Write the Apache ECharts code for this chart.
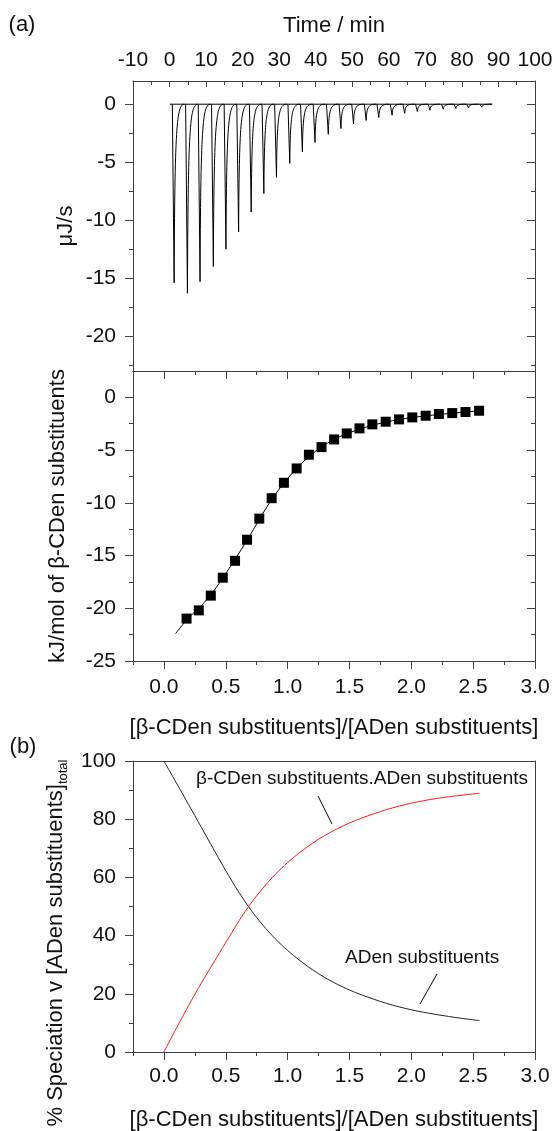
<!DOCTYPE html>
<html>
<head>
    <meta charset="UTF-8">
    <script src="https://cdn.jsdelivr.net/npm/echarts@6/dist/echarts.min.js"></script>
</head>
<body style="margin: 0; background: #fff;">
    <div id="chart" style="width: 555px; height: 1131px;"></div>
    <script type="text/javascript">
        // (a) top: raw ITC trace, one dip per injection (time in min, power in uJ/s)
        var peakTime = [1.26, 4.90, 8.35, 11.99, 15.44, 18.90, 22.35, 25.81, 29.26, 32.90,
                        36.35, 39.81, 43.44, 46.90, 50.35, 53.81, 57.26, 60.90, 64.35, 67.81,
                        71.26, 74.90, 78.35, 81.81, 85.44];
        var peakDepth = [-15.4, -16.3, -15.3, -14.0, -12.5, -11.0, -9.3, -7.7, -6.3, -5.1,
                         -4.1, -3.3, -2.6, -2.1, -1.7, -1.4, -1.15, -0.95, -0.78, -0.63,
                         -0.52, -0.43, -0.37, -0.32, -0.26];
        var baselineTime = [0.1, 88.3];
        var baselinePower = [0, 0];

        // (a) bottom: integrated heats and fitted curve
        var molarRatio = [0.183, 0.282, 0.379, 0.476, 0.575, 0.672, 0.771, 0.871, 0.970, 1.073,
                          1.172, 1.274, 1.376, 1.478, 1.581, 1.685, 1.793, 1.901, 2.008, 2.116,
                          2.223, 2.331, 2.438, 2.548];
        var heat = [-20.98, -20.2, -18.8, -17.1, -15.5, -13.5, -11.5, -9.56, -8.10, -6.74,
                    -5.44, -4.72, -3.99, -3.42, -2.94, -2.56, -2.31, -2.09, -1.90, -1.74,
                    -1.58, -1.49, -1.39, -1.27];
        var fitRatio = [0.094, 0.2, 0.3, 0.4, 0.5, 0.6, 0.7, 0.8, 0.9, 1.0, 1.1, 1.2,
                        1.3, 1.4, 1.5, 1.6, 1.7, 1.8, 1.9, 2.0, 2.2, 2.4, 2.58];
        var fitHeat = [-22.4, -20.9, -19.8, -18.4, -16.7, -14.9, -13.0, -11.0, -9.2, -7.7, -6.4, -5.35,
                       -4.5, -3.85, -3.35, -2.95, -2.6, -2.33, -2.1, -1.92, -1.65, -1.43, -1.25];

        // (b) speciation curves
        var specRatio = [0, 0.1, 0.2, 0.3, 0.4, 0.5, 0.6, 0.7, 0.8, 0.9, 1.0, 1.1,
                         1.2, 1.3, 1.4, 1.5, 1.6, 1.8, 2.0, 2.2, 2.4, 2.55];
        var freeADen = [100, 92.5, 85.0, 77.4, 69.8, 62.3, 55.3, 49.0, 43.6, 38.9, 34.9, 31.4,
                        28.3, 25.6, 23.3, 21.3, 19.6, 16.7, 14.5, 12.9, 11.6, 10.8];
        var complexed = [0, 8.1, 16.0, 23.5, 30.6, 37.6, 44.6, 50.9, 56.3, 61.0, 65.1, 68.6,
                         71.7, 74.4, 76.7, 78.7, 80.4, 83.3, 85.5, 87.1, 88.2, 88.9];

        // tick values
        var timeMajor = [-10, 0, 10, 20, 30, 40, 50, 60, 70, 80, 90, 100];
        var timeMinor = [-5, 5, 15, 25, 35, 45, 55, 65, 75, 85, 95];
        var powerMajor = [-20, -15, -10, -5, 0];
        var powerMinor = [-22.5, -17.5, -12.5, -7.5, -2.5];
        var heatMajor = [-25, -20, -15, -10, -5, 0];
        var heatMinor = [-22.5, -17.5, -12.5, -7.5, -2.5];
        var ratioMajor = [0, 0.5, 1.0, 1.5, 2.0, 2.5, 3.0];
        var ratioMinor = [-0.25, 0.25, 0.75, 1.25, 1.75, 2.25, 2.75];
        var specMajor = [0, 20, 40, 60, 80, 100];
        var specMinor = [10, 30, 50, 70, 90];

        var font = 'Arial, "Liberation Sans", sans-serif';
        var axisColor = '#404040';
        var textColor = '#111';

        function zip(a, b) {
            return a.map(function (v, i) { return [v, b[i]]; });
        }

        // one axis drawing a set of ticks (and optionally the line and labels)
        function tickAxis(grid, pos, min, max, values, len, inside, opts) {
            opts = opts || {};
            return {
                type: 'value', gridIndex: grid, position: pos, min: min, max: max,
                axisLine: { show: !!opts.line, onZero: false, lineStyle: { color: axisColor, width: 1 } },
                axisTick: { show: values.length > 0, inside: inside, length: len,
                            customValues: values, lineStyle: { color: axisColor, width: 1 } },
                axisLabel: opts.labels ? {
                    show: true, customValues: values, margin: opts.margin,
                    color: textColor, fontSize: 21, fontFamily: font,
                    formatter: opts.formatter
                } : { show: false },
                splitLine: { show: false },
                name: opts.name, nameLocation: 'middle', nameGap: opts.nameGap,
                nameTextStyle: { color: textColor, fontSize: 22, fontFamily: font }
            };
        }

        var fmt1 = function (v) { return v.toFixed(1); };

        var xAxes = [
            // grid 0: time on top
            tickAxis(0, 'top', -10, 100, timeMajor, 6, true,
                     { line: true, labels: true, margin: 10, name: 'Time / min', nameGap: 44 }),
            tickAxis(0, 'top', -10, 100, timeMinor, 4, true),
            tickAxis(0, 'bottom', -10, 100, [], 0, true, { line: true }),
            // grid 1: molar ratio
            tickAxis(1, 'bottom', -0.25, 3, ratioMajor, 8, false,
                     { line: true, labels: true, margin: 16, formatter: fmt1,
                       name: '[\u03b2-CDen substituents]/[ADen substituents]', nameGap: 56 }),
            tickAxis(1, 'bottom', -0.25, 3, ratioMinor, 4, false),
            tickAxis(1, 'top', -0.25, 3, ratioMajor, 8, true, { line: true }),
            tickAxis(1, 'top', -0.25, 3, ratioMinor, 4, true),
            // grid 2: molar ratio
            tickAxis(2, 'bottom', -0.25, 3, ratioMajor, 8, false,
                     { line: true, labels: true, margin: 14, formatter: fmt1,
                       name: '[\u03b2-CDen substituents]/[ADen substituents]', nameGap: 57 }),
            tickAxis(2, 'bottom', -0.25, 3, ratioMinor, 4, false),
            tickAxis(2, 'top', -0.25, 3, [], 0, true, { line: true })
        ];

        var yAxes = [
            // grid 0
            tickAxis(0, 'left', -23, 2, powerMajor, 8, false, { line: true, labels: true, margin: 17 }),
            tickAxis(0, 'left', -23, 2, powerMinor, 4, false),
            tickAxis(0, 'right', -23, 2, powerMajor, 8, true, { line: true }),
            tickAxis(0, 'right', -23, 2, powerMinor, 4, true),
            // grid 1
            tickAxis(1, 'left', -25, 2.5, heatMajor, 8, false, { line: true, labels: true, margin: 17 }),
            tickAxis(1, 'left', -25, 2.5, heatMinor, 4, false),
            tickAxis(1, 'right', -25, 2.5, heatMajor, 8, true, { line: true }),
            tickAxis(1, 'right', -25, 2.5, heatMinor, 4, true),
            // grid 2
            tickAxis(2, 'left', 0, 100, specMajor, 8, false, { line: true, labels: true, margin: 17 }),
            tickAxis(2, 'left', 0, 100, specMinor, 4, false),
            tickAxis(2, 'right', 0, 100, [], 0, true, { line: true })
        ];

        var chart = echarts.init(document.getElementById('chart'), null, { renderer: 'canvas' });

        var option = {
            animation: false,
            backgroundColor: '#fff',
            grid: [
                { left: 133, top: 81, width: 402, height: 290, outerBoundsMode: 'none' },
                { left: 133, top: 371, width: 402, height: 290, outerBoundsMode: 'none' },
                { left: 133, top: 761, width: 402, height: 291, outerBoundsMode: 'none' }
            ],
            xAxis: xAxes,
            yAxis: yAxes,
            series: [
                {
                    name: 'baseline', type: 'line', xAxisIndex: 0, yAxisIndex: 0,
                    data: zip(baselineTime, baselinePower), showSymbol: false,
                    lineStyle: { color: '#000', width: 1 }
                },
                {
                    name: 'injections', type: 'custom', xAxisIndex: 0, yAxisIndex: 0,
                    data: zip(peakTime, peakDepth),
                    renderItem: function (params, api) {
                        var t = api.value(0), d = api.value(1);
                        var start = api.coord([t - 0.5, 0]);
                        var tip = api.coord([t, d]);
                        var c1 = api.coord([t + 0.15, d * 0.12]);
                        var c2 = api.coord([t + 0.7, 0]);
                        var end = api.coord([t + 2.8, 0]);
                        var st = { stroke: '#000', fill: null, lineWidth: 1 };
                        return {
                            type: 'group',
                            children: [
                                { type: 'line', shape: { x1: start[0], y1: start[1], x2: tip[0], y2: tip[1] }, style: st },
                                { type: 'bezierCurve', shape: {
                                    x1: tip[0], y1: tip[1], cpx1: c1[0], cpy1: c1[1],
                                    cpx2: c2[0], cpy2: c2[1], x2: end[0], y2: end[1] }, style: st }
                            ]
                        };
                    }
                },
                {
                    name: 'fit', type: 'line', xAxisIndex: 3, yAxisIndex: 4,
                    data: zip(fitRatio, fitHeat), smooth: 0.3, showSymbol: false,
                    lineStyle: { color: '#000', width: 1 }, z: 2
                },
                {
                    name: 'heats', type: 'scatter', xAxisIndex: 3, yAxisIndex: 4,
                    data: zip(molarRatio, heat), symbol: 'rect', symbolSize: 10,
                    itemStyle: { color: '#000', opacity: 1 }, z: 3
                },
                {
                    name: 'ADen substituents', type: 'line', xAxisIndex: 7, yAxisIndex: 8,
                    data: zip(specRatio, freeADen), smooth: 0.3, showSymbol: false,
                    lineStyle: { color: '#222', width: 1 }
                },
                {
                    name: 'complex', type: 'line', xAxisIndex: 7, yAxisIndex: 8,
                    data: zip(specRatio, complexed), smooth: 0.3, showSymbol: false,
                    lineStyle: { color: '#ff1a1a', width: 1 }
                }
            ],
            graphic: [
                { type: 'text', x: 22, y: 25, style: { text: '(a)', fontSize: 22, fontFamily: font, fill: textColor, align: 'center', verticalAlign: 'middle' } },
                { type: 'text', x: 23, y: 747, style: { text: '(b)', fontSize: 22, fontFamily: font, fill: textColor, align: 'center', verticalAlign: 'middle' } },
                { type: 'text', x: 66, y: 226, rotation: Math.PI / 2, style: { text: '\u03bcJ/s', fontSize: 22, fontFamily: font, fill: textColor, align: 'center', verticalAlign: 'middle' } },
                { type: 'text', x: 58, y: 516, rotation: Math.PI / 2, style: { text: 'kJ/mol of \u03b2-CDen substituents', fontSize: 22, fontFamily: font, fill: textColor, align: 'center', verticalAlign: 'middle' } },
                { type: 'text', x: 56, y: 943, rotation: Math.PI / 2, style: {
                    text: '% Speciation v [ADen substituents]{sub|total}', fontSize: 22, fontFamily: font, fill: textColor,
                    align: 'center', verticalAlign: 'middle',
                    rich: { sub: { fontSize: 13, fontFamily: font, fill: textColor, verticalAlign: 'bottom', padding: [14, 0, 0, 0] } } } },
                { type: 'text', x: 196, y: 779, style: { text: '\u03b2-CDen substituents.ADen substituents', fontSize: 19, fontFamily: font, fill: textColor, align: 'left', verticalAlign: 'middle' } },
                { type: 'text', x: 345, y: 958, style: { text: 'ADen substituents', fontSize: 19, fontFamily: font, fill: textColor, align: 'left', verticalAlign: 'middle' } },
                { type: 'line', shape: { x1: 318, y1: 796, x2: 332, y2: 824 }, style: { stroke: '#000', lineWidth: 1 } },
                { type: 'line', shape: { x1: 437, y1: 974, x2: 420, y2: 1004 }, style: { stroke: '#000', lineWidth: 1 } }
            ]
        };

        chart.setOption(option);
        window.addEventListener('resize', chart.resize);
    </script>
</body>
</html>
